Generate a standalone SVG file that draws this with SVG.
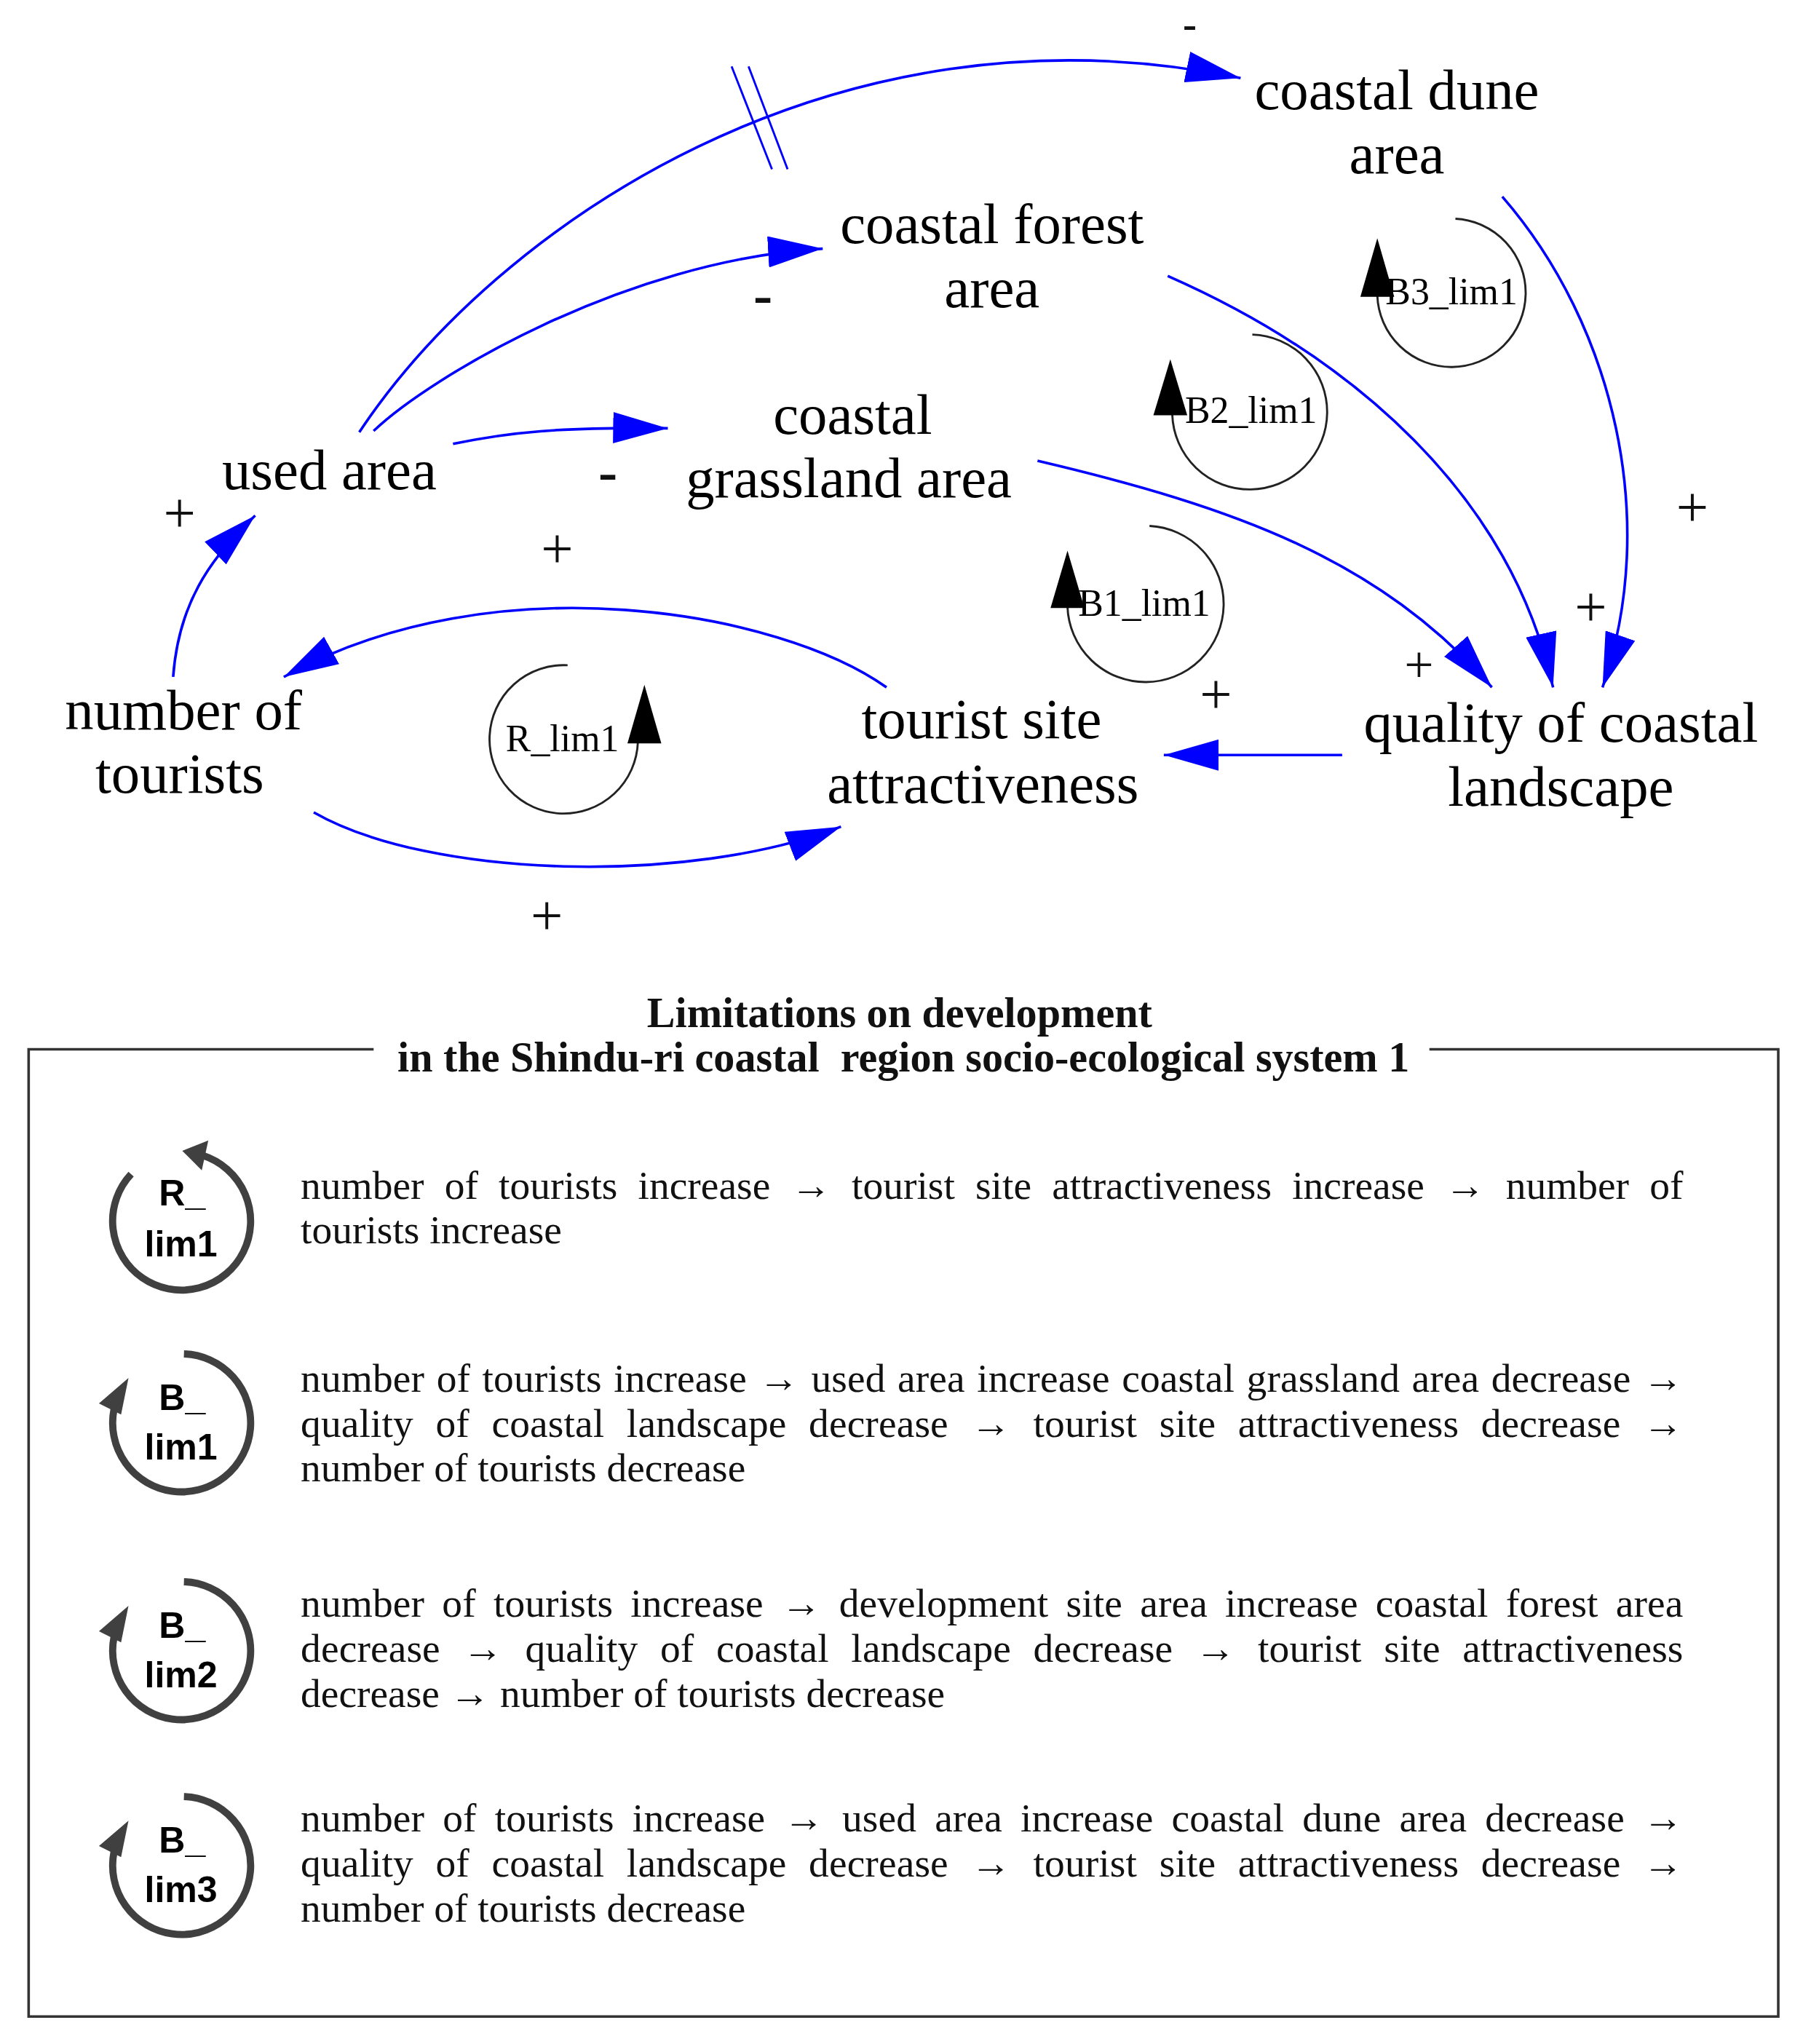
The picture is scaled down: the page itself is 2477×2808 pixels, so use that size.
<svg xmlns="http://www.w3.org/2000/svg" width="2477" height="2808" viewBox="0 0 2477 2808">
<style>
.node{font-family:"Liberation Serif","Times New Roman",serif;font-size:44px;fill:#000;text-anchor:middle}
.loopl{font-family:"Liberation Serif","Times New Roman",serif;font-size:29px;fill:#000;text-anchor:middle}
.sign{font-family:"Liberation Serif","Times New Roman",serif;font-size:44px;fill:#111;text-anchor:middle}
.minus{font-weight:bold}
.link{fill:none;stroke:#0000ff;stroke-width:2}
.hatch{fill:none;stroke:#0000ff;stroke-width:1.6}
.loop{fill:none;stroke:#222;stroke-width:1.6}
.lhead{fill:#000}
.title{font-family:"Liberation Serif","Times New Roman",serif;font-weight:bold;font-size:32.5px;fill:#111;text-anchor:middle}
.desc{font-family:"Liberation Serif","Times New Roman",serif;font-size:31px;fill:#111}
.icon{fill:none;stroke:#404040;stroke-width:5.5}
.iconhead{fill:#404040}
.icontxt{font-family:"Liberation Sans",Arial,sans-serif;font-weight:bold;font-size:28px;fill:#000;text-anchor:middle}
.frame{fill:none;stroke:#333;stroke-width:2}
</style>
<defs>
<marker id="arr" markerUnits="userSpaceOnUse" markerWidth="42" markerHeight="24" refX="42" refY="12" orient="auto" viewBox="0 0 42 24">
<path d="M0,0 L42,12 L0,24 Z" fill="#0000ff"/>
</marker>
</defs>
<rect x="0" y="0" width="2477" height="2808" fill="#fff"/>
<g transform="scale(1.78845)">

<g id="connectors">
<path class="link" marker-end="url(#arr)" d="M133,520 C137,465 160,430 196,396"/>
<path class="link" marker-end="url(#arr)" d="M348,341 C390,332 430,328 513,329"/>
<path class="link" marker-end="url(#arr)" d="M287,331 C330,290 480,200 632,191"/>
<path class="link" marker-end="url(#arr)" d="M276,332 C380,175 640,-5 953,60"/>
<path class="hatch" d="M562,51 L593,130 M575,51 L605,130"/>
<path class="link" marker-end="url(#arr)" d="M797,354 C950,390 1060,430 1146,528"/>
<path class="link" marker-end="url(#arr)" d="M897,212 C1040,275 1160,380 1193,528"/>
<path class="link" marker-end="url(#arr)" d="M1154,151 C1240,250 1275,400 1231,528"/>
<path class="link" marker-end="url(#arr)" d="M1031,580 L894,580"/>
<path class="link" marker-end="url(#arr)" d="M681,528 C600,470 380,430 218,520"/>
<path class="link" marker-end="url(#arr)" d="M241,624 C330,675 530,680 646,635"/>
</g>

<g id="polarities">
<text class="sign minus" x="914" y="29" style="font-size:32px">-</text>
<text class="sign minus" x="586" y="241">-</text>
<text class="sign minus" x="467" y="377">-</text>
<text class="sign" x="138" y="409">+</text>
<text class="sign" x="428" y="436">+</text>
<text class="sign" x="420" y="718">+</text>
<text class="sign" x="934" y="548">+</text>
<text class="sign" x="1090" y="524" style="font-size:40px">+</text>
<text class="sign" x="1222" y="481">+</text>
<text class="sign" x="1300" y="404">+</text>
</g>

<g id="node-coastal-dune-area">
<text class="node" x="1073" y="84">coastal dune</text>
<text class="node" x="1073" y="133">area</text>
</g>
<g id="node-coastal-forest-area">
<text class="node" x="762" y="187">coastal forest</text>
<text class="node" x="762" y="236">area</text>
</g>
<g id="node-coastal-grassland-area">
<text class="node" x="655" y="333">coastal</text>
<text class="node" x="652" y="382">grassland area</text>
</g>
<g id="node-used-area">
<text class="node" x="253" y="376">used area</text>
</g>
<g id="node-number-of-tourists">
<text class="node" x="141" y="560">number of</text>
<text class="node" x="138" y="609">tourists</text>
</g>
<g id="node-tourist-site-attractiveness">
<text class="node" x="754" y="567">tourist site</text>
<text class="node" x="755" y="617">attractiveness</text>
</g>
<g id="node-quality-of-coastal-landscape">
<text class="node" x="1199" y="570">quality of coastal</text>
<text class="node" x="1199" y="619">landscape</text>
</g>

<g id="loop-B3_lim1">
<path class="loop" d="M1118,168 A57,57 0 1 1 1058,227"/>
<path class="lhead" d="M1058,183 L1071,228 L1045,228 Z"/>
<text class="loopl" x="1115" y="234">B3_lim1</text>
</g>
<g id="loop-B2_lim1">
<path class="loop" d="M962,257 A59.5,59.5 0 1 1 900.5,318.5"/>
<path class="lhead" d="M899,276 L912,319 L886,319 Z"/>
<text class="loopl" x="961" y="325">B2_lim1</text>
</g>
<g id="loop-B1_lim1">
<path class="loop" d="M883,404 A60,60 0 1 1 820,466"/>
<path class="lhead" d="M820,423 L833,467 L807,467 Z"/>
<text class="loopl" x="879" y="473">B1_lim1</text>
</g>
<g id="loop-R_lim1">
<path class="loop" d="M436,511 A57,57 0 1 0 490,570"/>
<path class="lhead" d="M495,526 L508,571 L482,571 Z"/>
<text class="loopl" x="432" y="577">R_lim1</text>
</g>

<g id="legend">
<path class="frame" d="M287,806 H22 V1549 H1366 V806 H1098"/>
<text class="title" x="691" y="789">Limitations on development</text>
<text class="title" x="694" y="823">in the Shindu-ri coastal&#160; region socio-ecological system 1</text>

<g id="legend-R_lim1">
<path class="icon" d="M100.7,901.9 A53,53 0 1 0 155.9,887.6"/>
<path class="iconhead" d="M140,884 L160,876 L155,899 Z"/>
<text class="icontxt" x="140" y="926">R_</text>
<text class="icontxt" x="139" y="965">lim1</text>
<text class="desc" x="231" y="921" word-spacing="8" textLength="1062" lengthAdjust="spacing">number of tourists increase → tourist site attractiveness increase → number of</text>
<text class="desc" x="231" y="955">tourists increase</text>
</g>

<g id="legend-B_lim1">
<path class="icon" d="M141.3,1040 A53,53 0 1 1 87.5,1082.9"/>
<path class="iconhead" d="M98.7,1058.5 L76,1078 L93,1086.5 Z"/>
<text class="icontxt" x="140" y="1083">B_</text>
<text class="icontxt" x="139" y="1121">lim1</text>
<text class="desc" x="231" y="1069" word-spacing="1.4" textLength="1062" lengthAdjust="spacing">number of tourists increase → used area increase coastal grassland area decrease →</text>
<text class="desc" x="231" y="1103.5" word-spacing="9.3" textLength="1062" lengthAdjust="spacing">quality of coastal landscape decrease → tourist site attractiveness decrease →</text>
<text class="desc" x="231" y="1138">number of tourists decrease</text>
</g>

<g id="legend-B_lim2">
<path class="icon" d="M141.3,1215 A53,53 0 1 1 87.5,1257.9"/>
<path class="iconhead" d="M98.7,1233.5 L76,1253 L93,1261.5 Z"/>
<text class="icontxt" x="140" y="1258">B_</text>
<text class="icontxt" x="139" y="1296">lim2</text>
<text class="desc" x="231" y="1242" word-spacing="5.7" textLength="1062" lengthAdjust="spacing">number of tourists increase → development site area increase coastal forest area</text>
<text class="desc" x="231" y="1276.5" word-spacing="9.3" textLength="1062" lengthAdjust="spacing">decrease → quality of coastal landscape decrease → tourist site attractiveness</text>
<text class="desc" x="231" y="1311">decrease → number of tourists decrease</text>
</g>

<g id="legend-B_lim3">
<path class="icon" d="M141.3,1380 A53,53 0 1 1 87.5,1422.9"/>
<path class="iconhead" d="M98.7,1398.5 L76,1418 L93,1426.5 Z"/>
<text class="icontxt" x="140" y="1423">B_</text>
<text class="icontxt" x="139" y="1461">lim3</text>
<text class="desc" x="231" y="1407" word-spacing="6.2" textLength="1062" lengthAdjust="spacing">number of tourists increase → used area increase coastal dune area decrease →</text>
<text class="desc" x="231" y="1441.5" word-spacing="9.3" textLength="1062" lengthAdjust="spacing">quality of coastal landscape decrease → tourist site attractiveness decrease →</text>
<text class="desc" x="231" y="1476">number of tourists decrease</text>
</g>
</g>

</g>
</svg>
